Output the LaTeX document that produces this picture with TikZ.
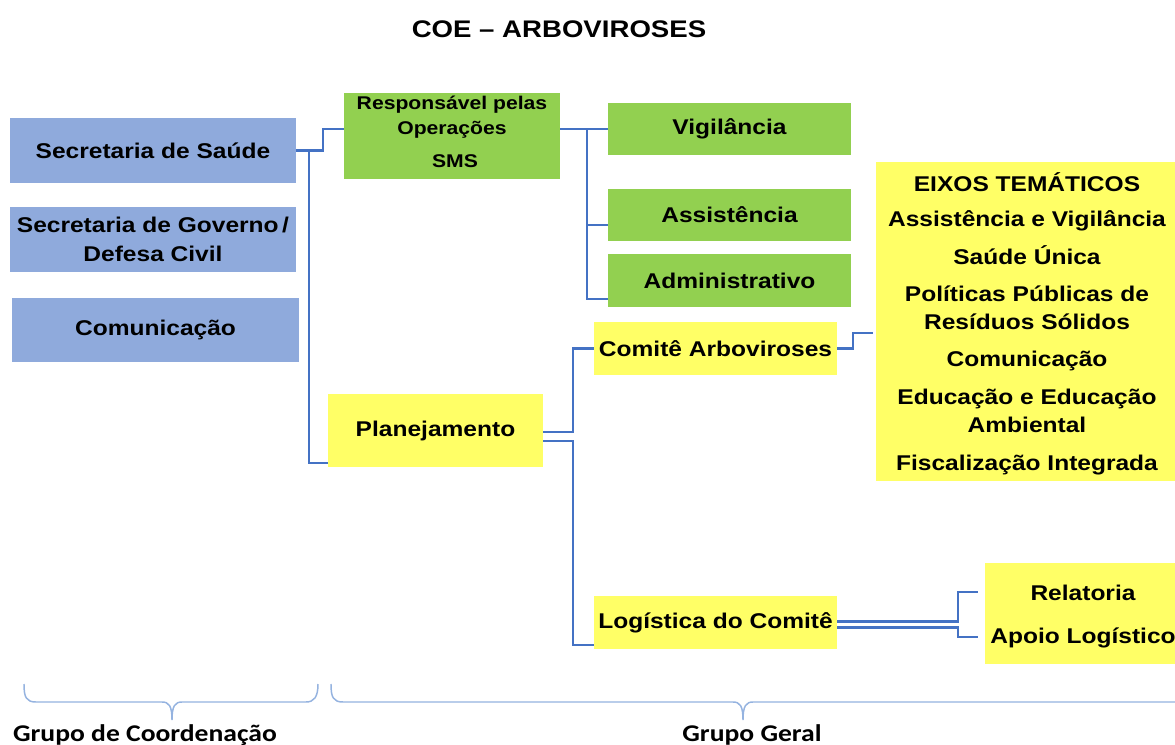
\documentclass[tikz,border=0pt]{standalone}
\usepackage{fontspec}
\setmainfont{Liberation Sans}[FakeStretch=1.15]
\newfontfamily\calib{Carlito}[FakeStretch=1.15]
\usetikzlibrary{calc}
\definecolor{bluefill}{HTML}{8FAADC}
\definecolor{greenfill}{HTML}{92D050}
\definecolor{yellowfill}{HTML}{FFFF66}
\definecolor{connblue}{HTML}{4472C4}
\definecolor{bracecol}{HTML}{95B3E0}
\tikzset{
  basebox/.style={inner sep=0pt, outer sep=0pt, align=center, font=\bfseries\fontsize{16}{21.75}\selectfont},
  bluebox/.style={basebox, fill=bluefill},
  greenbox/.style={basebox, fill=greenfill},
  yellowbox/.style={basebox, fill=yellowfill},
  linetext/.style={anchor=base, inner sep=0pt, font=\bfseries\fontsize{16}{20}\selectfont},
  smalltext/.style={anchor=base, inner sep=0pt, font=\bfseries\fontsize{13.8}{17}\selectfont},
  conn/.style={draw=connblue, line width=2pt},
  bracepath/.style={draw=bracecol, line width=1.1pt},
  grouplabel/.style={anchor=base, inner sep=0pt, font=\calib\bfseries\fontsize{18}{22}\selectfont}
}
\begin{document}
\begin{tikzpicture}[x=0.75pt,y=-0.75pt]
\useasboundingbox (0,0) rectangle (1175,745);
\fill[white] (0,0) rectangle (1175,745);

% title
\node[anchor=base, inner sep=0pt, font=\bfseries\fontsize{18}{22}\selectfont] (title) at (559,38) {COE -- ARBOVIROSES};

% coordination group
\node[bluebox, minimum width=214.5pt, minimum height=48.75pt] (sec) at (153,150.5) {Secretaria de Saúde};
\node[bluebox, minimum width=214.5pt, minimum height=48.75pt] (gov) at (153,239.5) {Secretaria de Governo\,/\\Defesa Civil};
\node[bluebox, minimum width=215.25pt, minimum height=48pt] (comu) at (155.5,330) {Comunicação};

% operations
\node[greenbox, minimum width=162pt, minimum height=64.5pt] (resp) at (452,136) {};
\node[smalltext] (resp1) at (452,110) {Responsável pelas};
\node[smalltext] (resp2) at (452,135) {Operações};
\node[smalltext] (resp3) at (455,168) {SMS};

\node[greenbox, minimum width=182.25pt, minimum height=39pt] (vig) at (729.5,129) {Vigilância};
\node[greenbox, minimum width=182.25pt, minimum height=39pt] (assist) at (729.5,215) {Assistência};
\node[greenbox, minimum width=182.25pt, minimum height=39.75pt] (adm) at (729.5,280.5) {Administrativo};

% planning
\node[yellowbox, minimum width=161.25pt, minimum height=54.75pt] (plan) at (435.5,430.5) {Planejamento};
\node[yellowbox, minimum width=182.25pt, minimum height=39.75pt] (com) at (715.5,348.5) {Comitê Arboviroses};
\node[yellowbox, minimum width=182.25pt, minimum height=39.75pt] (log) at (715.5,622.5) {Logística do Comitê};

% eixos
\node[yellowbox, minimum width=228pt, minimum height=239.25pt] (eixos) at (1028,321.5) {};
\node[linetext] (e1) at (1027,192) {EIXOS TEMÁTICOS};
\node[linetext] (e2) at (1027,227) {Assistência e Vigilância};
\node[linetext] (e3) at (1027,265) {Saúde Única};
\node[linetext] (e4) at (1027,302) {Políticas Públicas de};
\node[linetext] (e5) at (1027,330) {Resíduos Sólidos};
\node[linetext] (e6) at (1027,367) {Comunicação};
\node[linetext] (e7) at (1027,404) {Educação e Educação};
\node[linetext] (e8) at (1027,432) {Ambiental};
\node[linetext] (e9) at (1027,470) {Fiscalização Integrada};

% relatoria
\node[yellowbox, minimum width=147.75pt, minimum height=75.75pt] (rel) at (1083.5,613.5) {};
\node[linetext] (rel1) at (1083,600) {Relatoria};
\node[linetext] (rel2) at (1083,643) {Apoio Logístico};

% connectors
\draw[conn] (sec.east) -- ++(27,0) |- ([yshift=5.25pt]resp.west);
\draw[conn] (sec.east) -- ++(13,0) |- ([yshift=-24.4pt]plan.west);
\draw[conn] (resp.east |- vig.west) -- (vig.west);
\coordinate (busA) at ($(resp.east |- vig.west)+(27,0)$);
\draw[conn] (busA) |- ([yshift=-13.9pt]adm.west);
\draw[conn] (busA |- 0,225) -- ([yshift=-7.5pt]assist.west);
\draw[conn] ([yshift=-1pt]plan.east) -- ++(30,0) |- (com.west);
\draw[conn] ([yshift=-7.9pt]plan.east) -- ++(30,0) |- ([yshift=-16.9pt]log.west);
\draw[conn] (com.east) -- ++(16,0) |- ([xshift=-2pt,yshift=-8.6pt]eixos.west);
\draw[conn] ([yshift=0.6pt]log.east) -- ++(121,0) |- ([xshift=-5.25pt,yshift=16.1pt]rel.west);
\draw[conn] ([yshift=-3.6pt]log.east) -- ++(121,0) |- ([xshift=-5.25pt,yshift=-17.6pt]rel.west);

% braces
\draw[bracepath] (24,684) .. controls (24,697) and (26,702) .. (36,702) -- (162,702)
  .. controls (169,702) and (172,706) .. (172,720)
  .. controls (172,706) and (175,702) .. (182,702) -- (306,702)
  .. controls (314,702) and (318,697) .. (318,684);
\draw[bracepath] (331,684) .. controls (331,697) and (333,702) .. (343,702) -- (733,702)
  .. controls (740,702) and (743,706) .. (743,720)
  .. controls (743,706) and (746,702) .. (753,702) -- (1185,702);

\node[grouplabel] (gcoord) at (145,741) {Grupo de Coordenação};
\node[grouplabel] (ggeral) at (752,741) {Grupo Geral};
\end{tikzpicture}
\end{document}
